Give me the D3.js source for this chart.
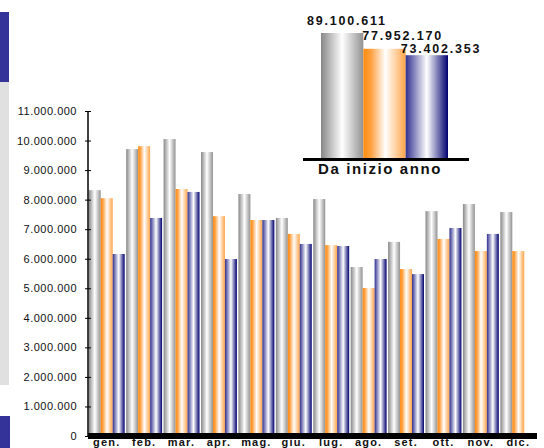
<!DOCTYPE html>
<html><head><meta charset="utf-8">
<script src="https://cdn.jsdelivr.net/npm/d3@7"></script>
<style>body{margin:0;background:#fff}svg{display:block}</style>
</head><body>
<script>
const months = ["gen.","feb.","mar.","apr.","mag.","giu.","lug.","ago.","set.","ott.","nov.","dic."];
const series = ["s1","s2","s3"];
const s1 = [8320000,9710000,10050000,9610000,8190000,7380000,8020000,5720000,6570000,7610000,7850000,7580000];
const s2 = [8050000,9810000,8360000,7440000,7310000,6840000,6460000,5010000,5650000,6670000,6260000,6260000];
const s3 = [6160000,7380000,8260000,5990000,7310000,6500000,6430000,5990000,5480000,7040000,6840000,null];
const yTicks = [0,1000000,2000000,3000000,4000000,5000000,6000000,7000000,8000000,9000000,10000000,11000000];
const ytdValues = [89100611,77952170,73402353];
const ytdLabels = ["89.100.611","77.952.170","73.402.353"];
const ytdTitle = "Da inizio anno";

const W=544,H=448;
const svg=d3.select("body").append("svg").attr("width",W).attr("height",H);
const defs=svg.append("defs");
function grad(id,stops){
  const g=defs.append("linearGradient").attr("id",id).attr("x1","0").attr("x2","1").attr("y1","0").attr("y2","0");
  stops.forEach(s=>g.append("stop").attr("offset",s[0]).attr("stop-color",s[1]));
}
grad("g0",[[0,"#888888"],[0.5,"#ffffff"],[1,"#929292"]]);
grad("g1",[[0,"#ff8c10"],[0.18,"#ffa040"],[0.52,"#ffffff"],[1,"#ffa448"]]);
grad("g2",[[0,"#303090"],[0.5,"#ffffff"],[1,"#000070"]]);
const fills=["url(#g0)","url(#g1)","url(#g2)"];

// slide remnants at left
svg.append("rect").attr("x",0).attr("y",12).attr("width",9).attr("height",70).attr("fill","#333399");
svg.append("rect").attr("x",0).attr("y",82).attr("width",9).attr("height",303).attr("fill","#e0e0e0");
svg.append("rect").attr("x",0).attr("y",416).attr("width",10).attr("height",32).attr("fill","#333399");

const x0=d3.scaleBand().domain(months).range([88,537]).paddingInner(0.04).paddingOuter(0.02);
const x1=d3.scaleBand().domain(series).range([0,x0.bandwidth()]).padding(0);
const y=d3.scaleLinear().domain([0,11000000]).range([436,111]);

const data=months.map((m,i)=>({m,vals:[s1[i],s2[i],s3[i]]}));
const g=svg.append("g");
data.forEach(d=>{
  d.vals.forEach((v,j)=>{
    if(v==null) return;
    g.append("rect").attr("x",x0(d.m)+x1(series[j])).attr("width",x1.bandwidth())
     .attr("y",y(v)).attr("height",y(0)-y(v)).attr("fill",fills[j]);
  });
});

// y axis
const fmt=v=>d3.format(",")(v).replace(/,/g,".");
const ya=svg.append("g").attr("transform","translate(88,0)")
  .call(d3.axisLeft(y).tickValues(yTicks).tickFormat(fmt).tickSize(3).tickPadding(8));
ya.select(".domain").remove();
ya.selectAll(".tick line").attr("x2",3).attr("x1",-3).attr("stroke","#000");
ya.selectAll("text").attr("font-family","Arial, 'Liberation Sans', sans-serif").attr("font-size",11).attr("fill","#111").attr("letter-spacing","0.5");
svg.append("line").attr("x1",88).attr("x2",88).attr("y1",y(11000000)).attr("y2",y(0)).attr("stroke","#000").attr("stroke-width",1.5);

// x axis thick bar
svg.append("rect").attr("x",88).attr("y",y(0)-3).attr("width",537-88).attr("height",6).attr("fill","#000");
const xa=svg.append("g").attr("transform",`translate(0,${y(0)})`)
  .call(d3.axisBottom(x0).tickSize(0).tickPadding(2));
xa.select(".domain").remove();
xa.selectAll("text").attr("font-family","Arial, 'Liberation Sans', sans-serif").attr("font-size",11)
  .attr("font-weight","bold").attr("fill","#111").attr("letter-spacing","1.2");

// inset YTD
const ix=d3.scaleBand().domain(series).range([321,448]).padding(0);
const iy=d3.scaleLinear().domain([0,89100611]).range([159,33]);
series.forEach((s,j)=>{
  svg.append("rect").attr("x",ix(s)).attr("width",ix.bandwidth()).attr("y",iy(ytdValues[j]))
    .attr("height",iy(0)-iy(ytdValues[j])).attr("fill",fills[j]);
});
const lblOff=[-14,-1,-5];
series.forEach((s,j)=>{
  svg.append("text").attr("x",ix(s)+lblOff[j]).attr("y",iy(ytdValues[j])-[8,9,2][j])
    .attr("font-family","Arial, 'Liberation Sans', sans-serif").attr("font-size",12.5).attr("font-weight","bold")
    .attr("letter-spacing","1.8").attr("fill","#111").text(ytdLabels[j]);
});
svg.append("rect").attr("x",303).attr("y",iy(0)-1).attr("width",166).attr("height",3).attr("fill","#000");
svg.append("text").attr("x",318).attr("y",174)
  .attr("font-family","Arial, 'Liberation Sans', sans-serif").attr("font-size",15).attr("font-weight","bold")
  .attr("letter-spacing","1.6").attr("fill","#111").text(ytdTitle);
</script>
</body></html>
